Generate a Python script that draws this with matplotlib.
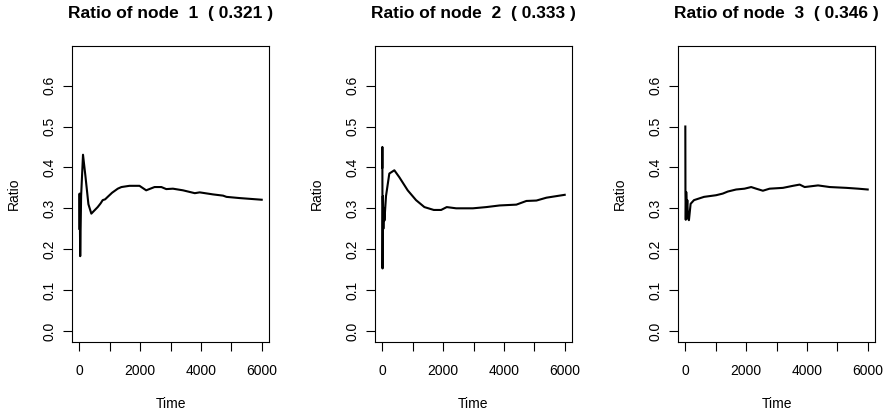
import numpy as np
import matplotlib
matplotlib.use('Agg')
import matplotlib.pyplot as plt

plt.rcParams['font.family'] = ['Liberation Sans', 'DejaVu Sans']

# values (time, ratio)
time1 = [1, 10, 30, 60, 122, 200, 300, 396, 500, 605, 700, 770, 850, 934, 1077,
         1265, 1385, 1650, 1980, 2200, 2475, 2700, 2860, 3080, 3410, 3800, 3960,
         4400, 4730, 4840, 5280, 6000]
ratio1 = [0.25, 0.336, 0.183, 0.33, 0.431, 0.38, 0.31, 0.287, 0.295, 0.303, 0.312,
          0.320, 0.322, 0.328, 0.338, 0.348, 0.352, 0.355, 0.355, 0.344, 0.352,
          0.352, 0.347, 0.348, 0.344, 0.337, 0.339, 0.334, 0.331, 0.328, 0.325,
          0.321]

time2 = [1, 2, 8, 20, 35, 50, 70, 122, 231, 396, 560, 835, 1110, 1385, 1693, 1935,
         2120, 2430, 2980, 3420, 3860, 4410, 4740, 5070, 5400, 6000]
ratio2 = [0.40, 0.45, 0.153, 0.33, 0.25, 0.30, 0.27, 0.33, 0.385, 0.393, 0.376,
          0.344, 0.320, 0.303, 0.296, 0.296, 0.303, 0.300, 0.300, 0.303, 0.307,
          0.309, 0.318, 0.319, 0.326, 0.333]

time3 = [1, 5, 15, 30, 50, 66, 90, 120, 175, 286, 450, 616, 1012, 1232, 1397, 1672,
         1947, 2167, 2332, 2552, 2772, 3212, 3542, 3762, 3927, 4367, 4752, 5302,
         5687, 6000]
ratio3 = [0.50, 0.34, 0.272, 0.34, 0.30, 0.32, 0.275, 0.271, 0.311, 0.320, 0.324,
          0.328, 0.332, 0.336, 0.341, 0.346, 0.348, 0.352, 0.348, 0.343, 0.348,
          0.350, 0.355, 0.358, 0.352, 0.356, 0.352, 0.350, 0.348, 0.346]

times = [time1, time2, time3]
ratios = [ratio1, ratio2, ratio3]
finals = ['0.321', '0.333', '0.346']

W, H = 884, 416
fig = plt.figure(figsize=(W / 100, H / 100), dpi=100)
lefts = [72, 375, 678]
for i in range(3):
    ax = fig.add_axes([lefts[i] / W, (H - 342) / H, 197 / W, 296 / H])
    ax.plot(times[i], ratios[i], color='black', lw=1.5)
    ax.set_xlim(-240, 6240)
    ax.set_ylim(-0.0268, 0.6968)
    ax.set_xticks(np.arange(0, 6001, 1000))
    ax.set_xticklabels(['0', '', '2000', '', '4000', '', '6000'])
    ax.set_yticks(np.arange(0, 0.61, 0.1))
    ax.set_yticklabels(['%.1f' % v for v in np.arange(0, 0.61, 0.1)],
                       rotation=90, va='center')
    ax.tick_params(length=6.5, width=0.8, labelsize=10)
    ax.tick_params(axis='x', pad=9)
    ax.tick_params(axis='y', pad=5)
    for s in ax.spines.values():
        s.set_linewidth(0.8)
    ax.set_xlabel('Time', fontsize=10, labelpad=14)
    ax.set_ylabel('Ratio', fontsize=10, labelpad=15)
    ax.set_title('Ratio of node  %d  ( %s )' % (i + 1, finals[i]),
                 fontsize=12.5, fontweight='bold', pad=20)

fig.savefig('out.png', dpi=100)
